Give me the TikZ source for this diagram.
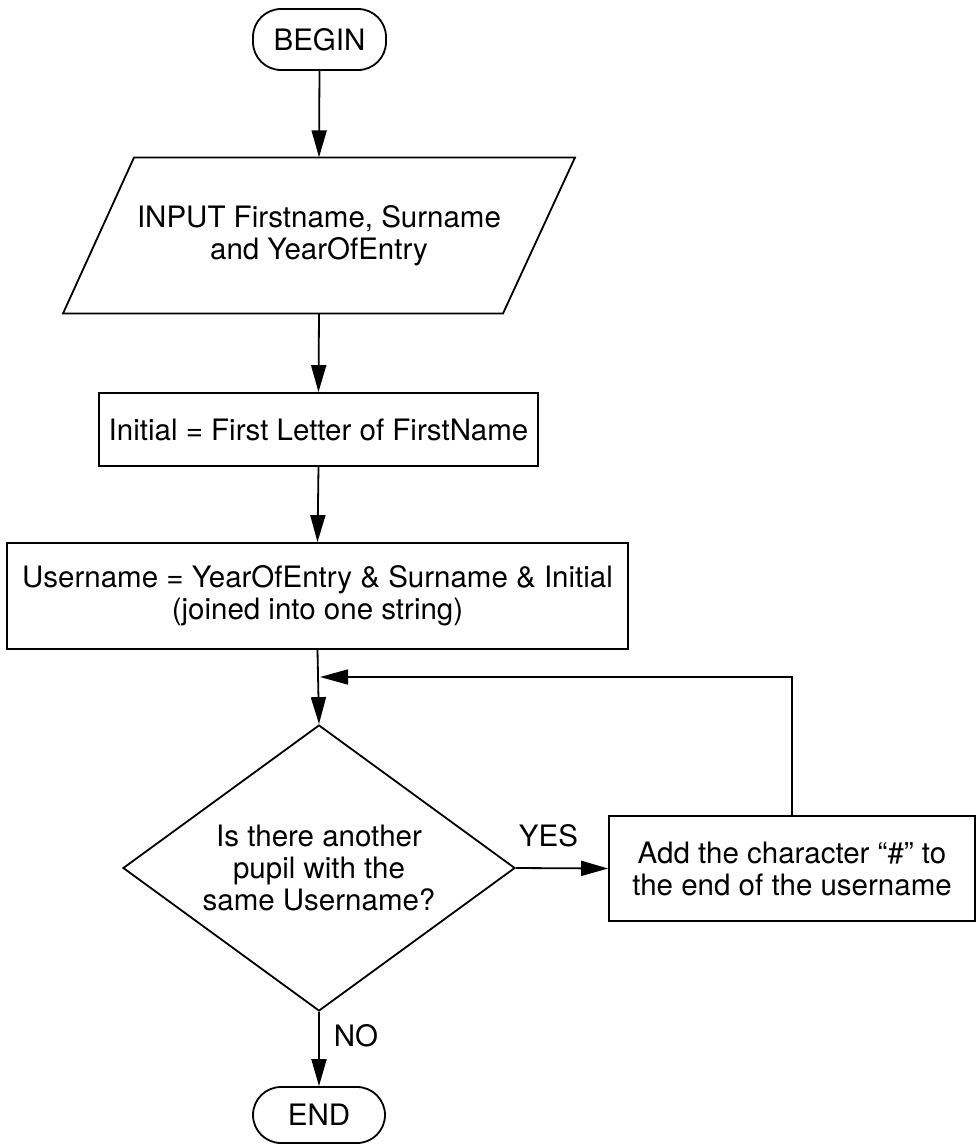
\documentclass[tikz,border=0pt]{standalone}
\usepackage{fontspec}
\setmainfont{TeX Gyre Heros}
\usetikzlibrary{arrows.meta,shapes.geometric}
\begin{document}
\begin{tikzpicture}[x=1pt,y=-1pt,
  every node/.style={font=\fontsize{29.5}{32}\selectfont, inner sep=0pt, align=center},
  shapeline/.style={draw=black, line width=1.8pt},
  terminal/.style={shapeline, rectangle, rounded corners=28pt, minimum width=133pt},
  procbox/.style={shapeline, rectangle},
  decbox/.style={shapeline, diamond, aspect=1.37, minimum width=392pt, minimum height=286pt},
  flow/.style={line width=1.8pt, -{Triangle[length=27pt,width=15pt]}},
  loopline/.style={line width=1.5pt, -{Triangle[length=28pt,width=15pt]}},
  lbl/.style={}]
\useasboundingbox (0,0) rectangle (977,1144);
\node[terminal, minimum height=61pt] (begin) at (319.5,39.5) {BEGIN};
\node[minimum width=300pt, minimum height=156pt] (input) at (319,235.5) {INPUT Firstname, Surname\\and YearOfEntry};
\draw[shapeline, line join=miter] (134,157.5) -- (575,157.5) -- (503,313.5) -- (63,313.5) -- cycle;
\node[procbox, minimum width=439pt, minimum height=73pt] (init) at (318.5,429.5) {Initial = First Letter of FirstName};
\node[procbox, minimum width=621pt, minimum height=106pt] (user) at (317.5,596) {Username = YearOfEntry \& Surname \& Initial\\(joined into one string)};
\node[decbox] (dec) at (319,868) {Is there another\\pupil with the\\same Username?};
\node[procbox, minimum width=366pt, minimum height=105pt] (add) at (792,868.5) {Add the character “\#” to\\the end of the username};
\node[terminal, minimum height=56pt, minimum width=132pt] (end) at (319,1115) {END};
\node[lbl] (yes) at (548.5,836) {YES};
\node[lbl] (no) at (356,1036) {NO};
\coordinate (loopin) at (320,677);
\draw[flow] (begin.south) -- (input.north);
\draw[flow] (input.south) -- (init.north);
\draw[flow] (init.south) -- (user.north);
\draw[flow] (user.south) -- (dec.north);
\draw[flow] (dec.east) -- (add.west);
\draw[flow] (dec.south) -- (end.north);
\draw[loopline] (add.north) |- (loopin);
\end{tikzpicture}
\end{document}
